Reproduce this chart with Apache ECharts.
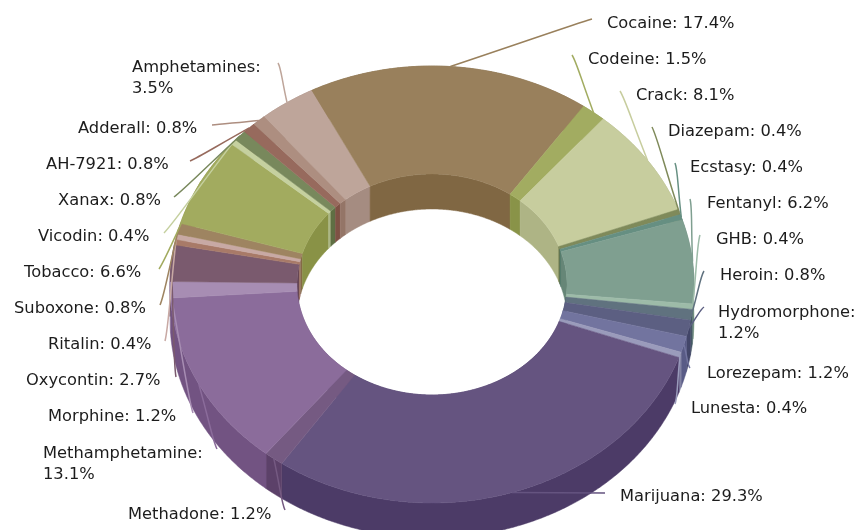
<!DOCTYPE html>
<html>
<head>
<meta charset="utf-8">
<title>Drugs</title>
<script src="https://cdn.jsdelivr.net/npm/echarts@6/dist/echarts.min.js"></script>
<style>
  html, body { margin: 0; padding: 0; background: #fff; }
  #chart { width: 860px; height: 530px; }
</style>
</head>
<body>
<div id="chart"></div>
<script>
// slices, clockwise from the upper left. the thin rust one after Oxycontin has no label in the picture
const categories = ['Amphetamines', 'Cocaine', 'Codeine', 'Crack', 'Diazepam', 'Ecstasy', 'Fentanyl', 'GHB',
  'Heroin', 'Hydromorphone', 'Lorezepam', 'Lunesta', 'Marijuana', 'Methadone', 'Methamphetamine', 'Morphine',
  'Oxycontin', '', 'Ritalin', 'Suboxone', 'Tobacco', 'Vicodin', 'Xanax', 'AH-7921', 'Adderall']
const shares = [3.5, 17.4, 1.5, 8.1, 0.4, 0.4, 6.2, 0.4, 0.8, 1.2, 1.2, 0.4, 29.3, 1.2, 13.1, 1.2, 2.7, 0.4, 0.4, 0.8, 6.6, 0.4, 0.8, 0.8, 0.8]

const colors = ['#BEA59A', '#99805C', '#A2AC61', '#C7CD9E', '#7F8A5A', '#668F82', '#7F9F90', '#9DBBA8',
  '#60727F', '#5C5F82', '#72749F', '#9A9BBB', '#655480', '#755A82', '#8B6C9B', '#A78DB3',
  '#7A5A6E', '#A87A68', '#C8A9A4', '#9E8461', '#A2AB5F', '#C5D09F', '#78885C', '#976A5D', '#AD8E80']

// label top left corner, and the point where its connector ends
const labelPos = [[132, 57], [607, 13], [588, 49], [636, 85], [668, 121], [690, 157], [707, 193], [716, 229],
  [720, 265], [718, 302], [707, 363], [691, 398], [620, 486], [128, 504], [43, 443], [48, 406],
  [26, 370], null, [48, 334], [14, 298], [24, 262], [38, 226], [58, 190], [46, 154], [78, 118]]
const lineEnds = [[278, 63], [592, 19], [572, 55], [620, 91], [652, 127], [675, 163], [690, 199], [700, 235],
  [704, 271], [704, 307], [690, 368], [675, 404], [605, 493], [285, 510], [217, 449], [193, 413],
  [176, 377], null, [165, 341], [160, 305], [159, 269], [164, 233], [174, 197], [190, 161], [212, 125]]
const wrapped = ['Amphetamines', 'Hydromorphone', 'Methamphetamine']

const cx = 432
const cy = 284.5
const outerA = 262
const outerSquash = 218.5 / 262
const innerR = 135 / 262
const innerSquash = 110.5 / 135
const depth = 35

const total = shares.reduce((a, b) => a + b, 0)
let run = 0
const slices = shares.map((v) => {
  const row = [1, run, run + v]
  run += v
  return row
})

const chart = echarts.init(document.getElementById('chart'))

function darker (hex) {
  const c = echarts.color.parse(hex)
  return 'rgb(' + [c[0], c[1], c[2]].map((n) => Math.max(0, n - 25)).join(',') + ')'
}

// flatten the polar point onto the tilted plane of the ring
function flat (api, r, v, dy) {
  const p = api.coord([r, v])
  const squash = r === 1 ? outerSquash : innerSquash
  return [p[0], cy + (p[1] - cy) * squash + (dy || 0)]
}

function arc (api, r, from, to, dy) {
  const pts = []
  const n = Math.max(2, Math.ceil((to - from) / 0.1))
  for (let i = 0; i <= n; i++) pts.push(flat(api, r, from + (to - from) * i / n, dy))
  return pts
}

function wall (r) {
  return function (params, api) {
    const from = api.value(1)
    const to = api.value(2)
    const fill = darker(colors[params.dataIndex])
    const pts = arc(api, r, from, to, 0).concat(arc(api, r, from, to, depth).reverse())
    return { type: 'polygon', shape: { points: pts }, style: { fill: fill, stroke: fill, lineWidth: 0.5 } }
  }
}

function topFace (params, api) {
  const from = api.value(1)
  const to = api.value(2)
  const fill = colors[params.dataIndex]
  const pts = arc(api, 1, from, to, 0).concat(arc(api, innerR, from, to, 0).reverse())
  return { type: 'polygon', shape: { points: pts }, style: { fill: fill, stroke: fill, lineWidth: 0.5 } }
}

function labels (params, api) {
  const i = params.dataIndex
  if (!categories[i]) return null
  const start = flat(api, 1, (api.value(1) + api.value(2)) / 2, 0)
  const end = lineEnds[i]
  const side = start[0] > end[0] ? 1 : -1
  const sep = wrapped.indexOf(categories[i]) >= 0 ? ':\n' : ': '
  return {
    type: 'group',
    children: [{
      type: 'bezierCurve',
      shape: {
        x1: start[0],
        y1: start[1],
        x2: end[0],
        y2: end[1],
        cpx1: start[0] + (end[0] - start[0]) * 0.6,
        cpy1: start[1] + (end[1] - start[1]) * 0.6,
        cpx2: end[0] + side * 2 + (start[0] - end[0]) * 0.12,
        cpy2: end[1] + (start[1] - end[1]) * 0.12
      },
      style: { stroke: colors[i], lineWidth: 1.5, fill: null }
    }, {
      type: 'text',
      style: {
        text: categories[i] + sep + shares[i].toFixed(1) + '%',
        x: labelPos[i][0],
        y: labelPos[i][1],
        fill: '#1c1c1c',
        font: '16.3px "DejaVu Sans"',
        lineHeight: 21,
        textVerticalAlign: 'top'
      }
    }]
  }
}

function layer (render) {
  return { type: 'custom', coordinateSystem: 'polar', clip: false, silent: true, data: slices, renderItem: render }
}

chart.setOption({
  animation: false,
  backgroundColor: '#fff',
  polar: { center: [cx, cy], radius: outerA },
  angleAxis: { type: 'value', min: 0, max: total, startAngle: 129.9, show: false },
  radiusAxis: { type: 'value', min: 0, max: 1, show: false },
  series: [layer(wall(innerR)), layer(wall(1)), layer(topFace), layer(labels)]
})
</script>
</body>
</html>
